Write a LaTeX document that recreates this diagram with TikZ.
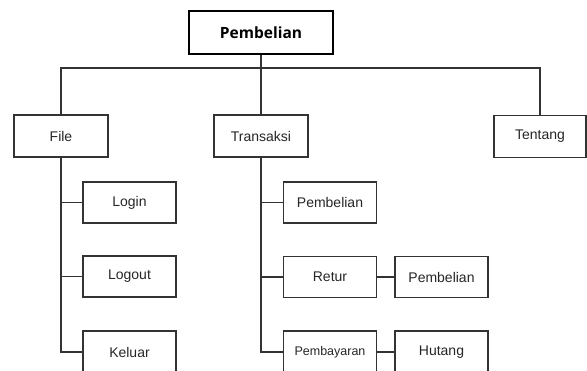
\documentclass[tikz,border=0pt]{standalone}
\usepackage{fontspec}
\setmainfont{Liberation Sans}
\newfontfamily\topfont{Open Sans}
\begin{document}
\begin{tikzpicture}[x=1pt,y=-1pt,
  box/.style={draw=black!80, line width=1.3pt, minimum width=93pt, minimum height=41pt, inner sep=0pt, text=black!85, font=\fontsize{14}{16}\selectfont},
  topbox/.style={draw=black, line width=2.4pt, minimum width=144pt, minimum height=43pt, inner sep=0pt, font=\topfont\bfseries\fontsize{15.5}{18}\selectfont},
  link/.style={draw=black!80, line width=1.3pt}]
\useasboundingbox (0,0) rectangle (587,371);
\clip (0,0) rectangle (587,371);
\fill[white] (0,0) rectangle (587,371);
\node[topbox] (root) at (261,32.5) {Pembelian};
\node[box, minimum width=94pt, minimum height=42pt] (file) at (61,136) {File};
\node[box, minimum width=94pt, minimum height=42pt] (trans) at (261,136) {Transaksi};
\node[box, minimum width=92pt, minimum height=42pt] (tentang) at (540,136.5) {Tentang};
\node[box] (login) at (129.5,202.5) {Login};
\node[box] (logout) at (129.5,276.5) {Logout};
\node[box, minimum height=42pt] (keluar) at (129.5,352) {Keluar};
\node[box] (pemb) at (330,202.5) {Pembelian};
\node[box] (retur) at (330,277) {Retur};
\node[box] (pemb2) at (441.5,277) {Pembelian};
\node[box, minimum height=42pt, font=\fontsize{12.5}{15}\selectfont] (bayar) at (330,352) {Pembayaran};
\node[box, minimum height=42pt] (hutang) at (441.5,352) {Hutang};
\coordinate (bus) at (261,68);
\draw[link] (root.south) -- (bus);
\draw[link] (file.north) |- (tentang.north |- bus) -- (tentang.north);
\draw[link] (bus) -- (trans.north);
\draw[link] (file.south) |- (keluar.west);
\draw[link] (file.south |- login.west) -- (login.west);
\draw[link] (file.south |- logout.west) -- (logout.west);
\draw[link] (trans.south) |- (bayar.west);
\draw[link] (trans.south |- pemb.west) -- (pemb.west);
\draw[link] (trans.south |- retur.west) -- (retur.west);
\draw[link] (retur.east) -- (pemb2.west);
\draw[link] (bayar.east) -- (hutang.west);
\end{tikzpicture}
\end{document}
